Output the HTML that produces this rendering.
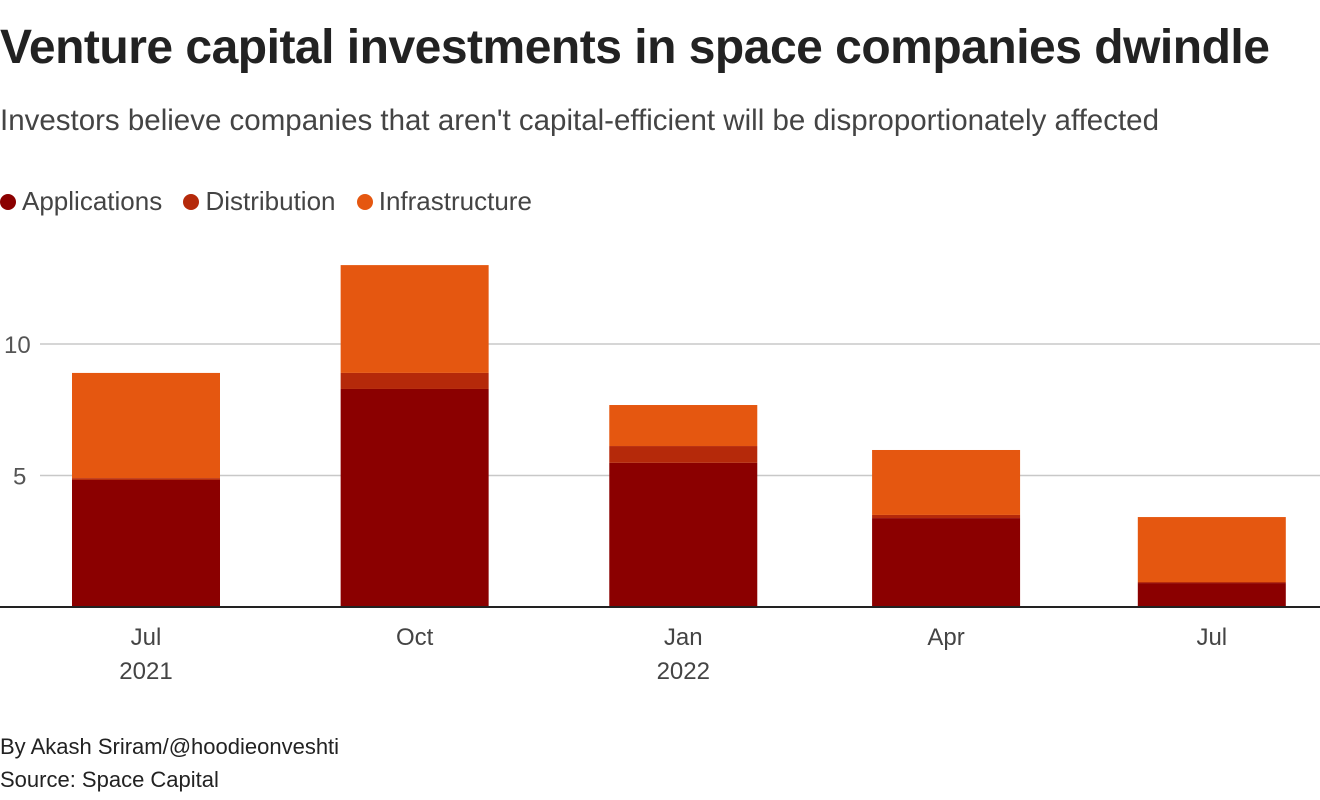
<!DOCTYPE html>
<html><head><meta charset="utf-8"><style>
body{margin:0;width:1320px;height:800px;background:#fff;font-family:"Liberation Sans",sans-serif;color:#222;overflow:hidden;position:relative}
.t{position:absolute;white-space:nowrap}
</style></head><body>
<div class="t" style="left:0;top:20px;font-size:48px;font-weight:bold;letter-spacing:-0.5px">Venture capital investments in space companies dwindle</div>
<div class="t" style="left:0;top:104px;font-size:29.5px;color:#444">Investors believe companies that aren't capital-efficient will be disproportionately affected</div>
<div class="t" style="left:0;top:186px;font-size:26px;color:#444">
<span><span style="display:inline-block;width:16px;height:16px;border-radius:50%;background:#8b0000;margin-right:6px"></span>Applications</span>
<span style="margin-left:14px"><span style="display:inline-block;width:16px;height:16px;border-radius:50%;background:#b5290a;margin-right:6px"></span>Distribution</span>
<span style="margin-left:14px"><span style="display:inline-block;width:16px;height:16px;border-radius:50%;background:#e55710;margin-right:6px"></span>Infrastructure</span>
</div>
<svg id="chart" width="1320" height="800" style="position:absolute;left:0;top:0"></svg>
<div class="t" style="left:0;top:734px;font-size:22px">By Akash Sriram/@hoodieonveshti</div>
<div class="t" style="left:0;top:767px;font-size:22px">Source: Space Capital</div>
<script>
const dayOffsets=[0,92,184,274,365];
const monthLabels=["Jul","Oct","Jan","Apr","Jul"];
const yearLabels=["2021","","2022","",""];
const applications=[4.83,8.29,5.48,3.38,0.91];
const distribution=[0.07,0.61,0.64,0.12,0.04];
const infrastructure=[4.0,4.1,1.56,2.47,2.47];
const yTicks=[5,10];
const NS="http://www.w3.org/2000/svg";
const svg=document.getElementById('chart');
const x=d=>146+d*2.92;
const y=v=>607-v*26.3;
const bw=148;
function mk(tag,attrs){const e=document.createElementNS(NS,tag);for(const k in attrs)e.setAttribute(k,attrs[k]);svg.appendChild(e);return e;}
yTicks.forEach(v=>{
 const l=mk('line',{x1:40,x2:1320,y1:y(v),y2:y(v),stroke:'#c8c8c8','stroke-width':1.5});
 
 
 const t=mk('text',{x:v>=10?4:13,y:y(v)+9,'font-size':24,fill:'#555','font-family':'Liberation Sans, sans-serif'});
 t.textContent=v;
 
 
});
const series=[[applications,'#8b0000','applications'],[distribution,'#b5290a','distribution'],[infrastructure,'#e55710','infrastructure']];
dayOffsets.forEach((d,i)=>{
 let base=0;
 series.forEach(([arr,c,n])=>{
  const r=mk('rect',{x:x(d)-bw/2,y:y(base+arr[i]),width:bw,height:arr[i]*26.3,fill:c});
  
  
  base+=arr[i];
 });
 const t=mk('text',{x:x(d),y:645,'font-size':24,fill:'#444','text-anchor':'middle','font-family':'Liberation Sans, sans-serif'});
 t.textContent=monthLabels[i];
 
 
 if(yearLabels[i]){
  const t2=mk('text',{x:x(d),y:679,'font-size':24,fill:'#444','text-anchor':'middle','font-family':'Liberation Sans, sans-serif'});
  t2.textContent=yearLabels[i];
  
  
 }
});
const b=mk('line',{x1:0,x2:1320,y1:607,y2:607,stroke:'#222','stroke-width':2});


</script>
</body></html>
